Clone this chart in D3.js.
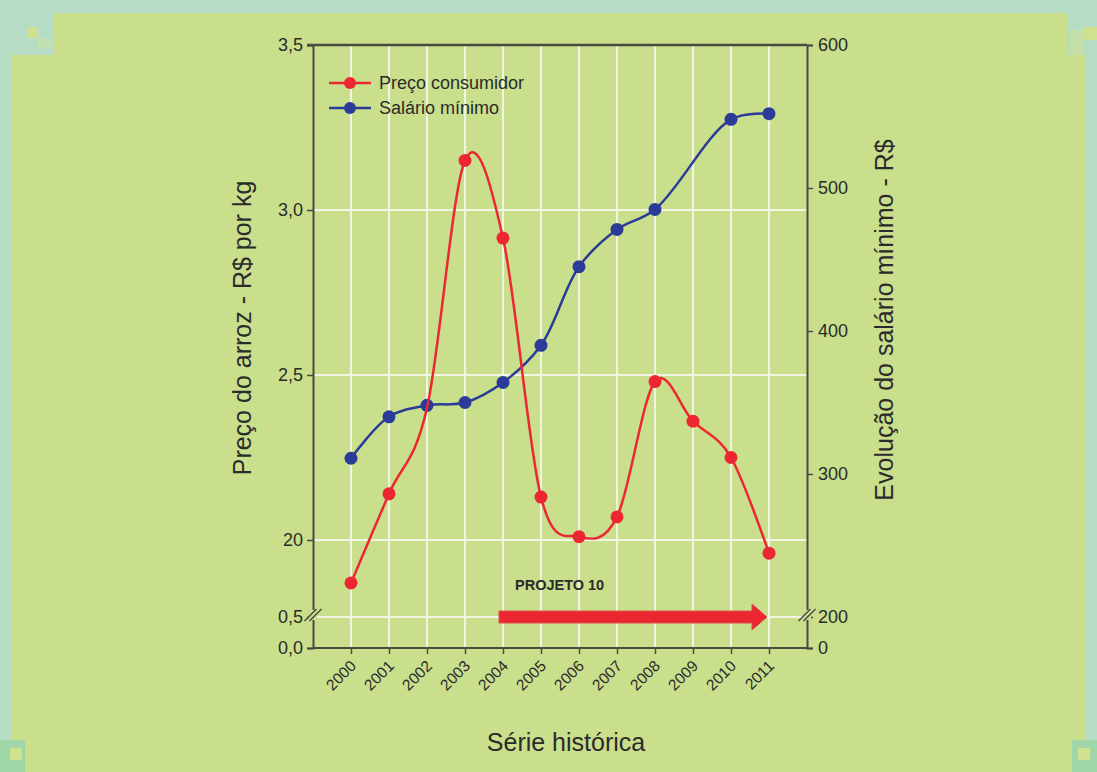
<!DOCTYPE html>
<html>
<head>
<meta charset="utf-8">
<script src="https://cdn.jsdelivr.net/npm/d3@7"></script>
<style>
  html, body { margin: 0; padding: 0; background: #b7dcc6; }
  svg { display: block; }
  text { font-family: "Liberation Sans", Arial, sans-serif; fill: #2b2b2b; }
</style>
</head>
<body>
<svg id="chart" width="1097" height="772"></svg>
<script>
// ---- data ----
const years = ["2000","2001","2002","2003","2004","2005","2006","2007","2008","2009","2010","2011"];
const precoConsumidor = [1.87, 2.14, 2.40, 3.15, 2.915, 2.13, 2.01, 2.07, 2.48, 2.36, 2.25, 1.96];
const precoMarked = [true, true, false, true, true, true, true, true, true, true, true, true];
const salarioMinimo = [311, 340, 348, 350, 364, 390, 445, 471, 485, null, 548, 552];
const leftTicks = [0, 0.5, 2.0, 2.5, 3.0, 3.5];
const leftTickLabels = ["0,0", "0,5", "20", "2,5", "3,0", "3,5"];
const leftGrid = [0.5, 2.0, 2.5, 3.0];
const rightTicks = [0, 200, 300, 400, 500, 600];
const rightTickLabels = ["0", "200", "300", "400", "500", "600"];
const seriesNames = ["Preço consumidor", "Salário mínimo"];
const arrowYears = ["2004", "2011"];
const arrowLabel = "PROJETO 10";
const breakLeft = 0.5, breakRight = 200;

// ---- layout ----
const svg = d3.select("#chart");
const L = 313, R = 807, T = 45, B = 648;
const colRed = "#ec2732", colBlue = "#2b3c98", colAxis = "#4a4a40", colGrid = "#f3f5e4";

// background panel
const bg = svg.append("g");
bg.append("rect").attr("x", 0).attr("y", 0).attr("width", 1097).attr("height", 772).attr("fill", "#b7dcc6");
bg.append("rect").attr("x", 12).attr("y", 55).attr("width", 1073).attr("height", 717).attr("fill", "#c9df8c");
bg.append("rect").attr("x", 53).attr("y", 13).attr("width", 1015).attr("height", 50).attr("fill", "#c9df8c");
[[27,27,11,11,"#cfe08e"],[38,38,14,10,"#bfe0b0"],[1083,27,14,13,"#cfe08e"],[1070,30,13,25,"#c5dfa8"],
 [0,740,25,32,"#9fd6a8"],[10,748,12,12,"#cfe08e"],[1072,740,25,32,"#9fd6a8"],[1078,748,12,12,"#cfe08e"]]
  .forEach(d => bg.append("rect").attr("x", d[0]).attr("y", d[1]).attr("width", d[2]).attr("height", d[3]).attr("fill", d[4]));

// scales
const x = d3.scalePoint().domain(years).range([L, R]).padding(1);
const yL = d3.scaleLinear().domain([0, 0.5, 1.8, 3.5]).range([B, 617, 606, T]);
const yR = d3.scaleLinear().domain([0, 200, 600]).range([B, 617, T]);

// grid
const grid = svg.append("g");
grid.selectAll("line.v").data(years).join("line")
  .attr("x1", d => x(d)).attr("x2", d => x(d)).attr("y1", T).attr("y2", B)
  .attr("stroke", colGrid).attr("stroke-width", 2);
grid.selectAll("line.h").data(leftGrid).join("line")
  .attr("x1", L).attr("x2", R).attr("y1", d => yL(d)).attr("y2", d => yL(d))
  .attr("stroke", colGrid).attr("stroke-width", 2);

// axes
const axL = svg.append("g").attr("transform", `translate(${L},0)`)
  .call(d3.axisLeft(yL).tickValues(leftTicks).tickFormat((d, i) => leftTickLabels[i]).tickSize(6).tickPadding(4));
const axR = svg.append("g").attr("transform", `translate(${R},0)`)
  .call(d3.axisRight(yR).tickValues(rightTicks).tickFormat((d, i) => rightTickLabels[i]).tickSize(6).tickPadding(5));
const axB = svg.append("g").attr("transform", `translate(0,${B})`)
  .call(d3.axisBottom(x).tickSize(6).tickFormat(""));
[axL, axR, axB].forEach(a => {
  a.select(".domain").attr("stroke", colAxis).attr("stroke-width", 2);
  a.selectAll(".tick line").attr("stroke", colAxis).attr("stroke-width", 1.5);
  a.selectAll(".tick text").attr("font-family", '"Liberation Sans", Arial, sans-serif').attr("font-size", 18).attr("fill", "#2b2b2b");
});
axB.select(".domain").attr("d", `M${L},0H${R}`);
// top frame line
svg.append("line").attr("x1", L - 6).attr("x2", R).attr("y1", T).attr("y2", T).attr("stroke", colAxis).attr("stroke-width", 2.5);

// year labels rotated
svg.append("g").selectAll("text").data(years).join("text")
  .attr("transform", d => `translate(${x(d) + 6},${B + 19}) rotate(-45)`)
  .attr("text-anchor", "end").attr("font-size", 15.5).text(d => d);

// axis break marks
function breakMark(cx, cy) {
  const g = svg.append("g");
  g.append("rect").attr("x", cx - 4).attr("y", cy - 6).attr("width", 8).attr("height", 10).attr("fill", "#c9df8c");
  [-2.5, 2.5].forEach(o => g.append("line")
    .attr("x1", cx - 6 + o).attr("y1", cy + 5).attr("x2", cx + 6 + o).attr("y2", cy - 7)
    .attr("stroke", colAxis).attr("stroke-width", 1.5));
}
breakMark(L, yL(breakLeft) - 1);
breakMark(R, yR(breakRight) - 1);

// arrow
const ax0 = x(arrowYears[0]) - 4, ax1 = x(arrowYears[1]) - 2, ay = yL(breakLeft);
svg.append("path")
  .attr("d", `M${ax0},${ay - 6}H${ax1 - 15}V${ay - 13}L${ax1},${ay}L${ax1 - 15},${ay + 13}V${ay + 6}H${ax0}Z`)
  .attr("fill", colRed).attr("stroke", "#d9504a").attr("stroke-width", 1);
svg.append("text").attr("x", x("2004") + 12).attr("y", ay - 27)
  .attr("font-size", 14.5).attr("font-weight", "bold").attr("fill", "#1e1e1e").text(arrowLabel);

// series
const redPts = years.map((y, i) => ({ y, v: precoConsumidor[i], m: precoMarked[i] }));
const bluePts = years.map((y, i) => ({ y, v: salarioMinimo[i] })).filter(d => d.v !== null);
const redLine = d3.line().x(d => x(d.y)).y(d => yL(d.v)).curve(d3.curveCatmullRom.alpha(0));
const blueLine = d3.line().x(d => x(d.y)).y(d => yR(d.v)).curve(d3.curveCatmullRom.alpha(0.5));

svg.append("g").selectAll("circle").data(redPts.filter(d => d.m)).join("circle")
  .attr("cx", d => x(d.y)).attr("cy", d => yL(d.v)).attr("r", 6.5).attr("fill", colRed);
svg.append("path").datum(bluePts).attr("d", blueLine).attr("fill", "none").attr("stroke", colBlue).attr("stroke-width", 2.5);
svg.append("g").selectAll("circle").data(bluePts).join("circle")
  .attr("cx", d => x(d.y)).attr("cy", d => yR(d.v)).attr("r", 6.5).attr("fill", colBlue);
svg.append("path").datum(redPts).attr("d", redLine).attr("fill", "none").attr("stroke", colRed).attr("stroke-width", 2.5);

// legend
const leg = svg.append("g");
[colRed, colBlue].forEach((c, i) => {
  const ly = 83 + i * 25;
  leg.append("line").attr("x1", 329).attr("x2", 371).attr("y1", ly).attr("y2", ly).attr("stroke", c).attr("stroke-width", 2.5);
  leg.append("circle").attr("cx", 350).attr("cy", ly).attr("r", 6).attr("fill", c);
  leg.append("text").attr("x", 379).attr("y", ly + 6).attr("font-size", 18).text(seriesNames[i]);
});

// axis titles
svg.append("text").attr("transform", "translate(251,328) rotate(-90)").attr("text-anchor", "middle")
  .attr("font-size", 25).text("Preço do arroz - R$ por kg");
svg.append("text").attr("transform", "translate(893,320) rotate(-90)").attr("text-anchor", "middle")
  .attr("font-size", 25).text("Evolução do salário mínimo - R$");
svg.append("text").attr("x", 566).attr("y", 751).attr("text-anchor", "middle")
  .attr("font-size", 25).text("Série histórica");
</script>
</body>
</html>
